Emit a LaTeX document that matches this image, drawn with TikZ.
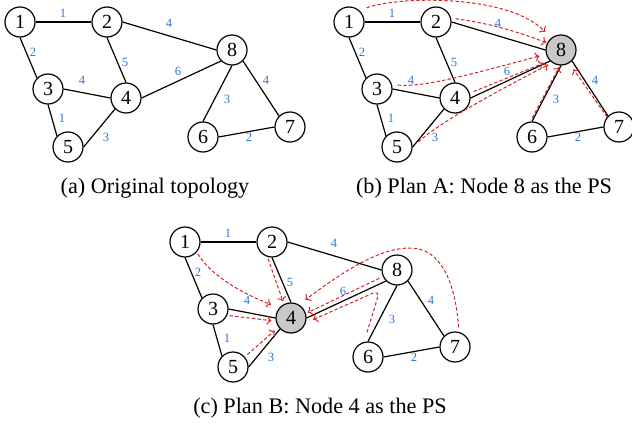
\documentclass[tikz,border=0pt]{standalone}
\usepackage{fontspec}
\setmainfont{Liberation Serif}
\usetikzlibrary{arrows.meta}
\definecolor{flowred}{RGB}{215,35,35}
\definecolor{wblue}{RGB}{45,120,210}
\definecolor{psgray}{RGB}{200,200,200}
\tikzset{
 vtx/.style={circle, draw, line width=0.6pt, minimum size=15pt, inner sep=0pt, font=\fontsize{10}{10}\selectfont},
 link/.style={line width=0.6pt},
 wlab/.style={text=wblue, font=\fontsize{6.3}{7}\selectfont, inner sep=0pt},
 flow/.style={draw=flowred, line width=0.5pt, dash pattern=on 1.7pt off 1.1pt, -{To[length=2.2pt]}},
 captxt/.style={font=\fontsize{11.1}{12}\selectfont, inner sep=0pt, anchor=base},
 v1/.style={}, v2/.style={}, v3/.style={}, v4/.style={},
 v5/.style={}, v6/.style={}, v7/.style={}, v8/.style={}
}
\newcommand\netgraph[1]{%
  \node[vtx,v1] (#11) at (20,-22) {1};
  \node[vtx,v2] (#12) at (107,-22) {2};
  \node[vtx,v3] (#13) at (48,-89) {3};
  \node[vtx,v4] (#14) at (126,-98) {4};
  \node[vtx,v5] (#15) at (68,-147) {5};
  \node[vtx,v6] (#16) at (203,-137) {6};
  \node[vtx,v7] (#17) at (290,-127) {7};
  \node[vtx,v8] (#18) at (232,-50) {8};
  \draw[link] (#11.east) -- (#12.west);
  \draw[link] (#11.south) -- (#13.north west);
  \draw[link] (#12.east) -- (#18.west);
  \draw[link] (#12.south) -- (#14.north);
  \draw[link] (#13.east) -- (#14.west);
  \draw[link] (#13.south) -- (#15.north west);
  \draw[link] (#14.south west) -- (#15.east);
  \draw[link] (#14.east) -- (#18.south west);
  \draw[link] (#18.south) -- (#16.north);
  \draw[link] (#18.south east) -- (#17.north west);
  \draw[link] (#16.east) -- (#17.west);
  \node[wlab] (#1w12) at (63,-13) {1};
  \node[wlab] (#1w13) at (33,-52) {2};
  \node[wlab] (#1w28) at (169,-23) {4};
  \node[wlab] (#1w24) at (125,-62) {5};
  \node[wlab] (#1w34) at (82,-80) {4};
  \node[wlab] (#1w35) at (62,-118) {1};
  \node[wlab] (#1w45) at (106,-137) {3};
  \node[wlab] (#1w48) at (178,-71) {6};
  \node[wlab] (#1w86) at (227,-99) {3};
  \node[wlab] (#1w87) at (266,-80) {4};
  \node[wlab] (#1w67) at (249,-137) {2};
}
\begin{document}
\begin{tikzpicture}[x=0.5pt,y=0.5pt]
\path[use as bounding box] (0,0) rectangle (632,-428);
% (a)
\begin{scope}
  \netgraph{a}
\end{scope}
\node[captxt] (capa) at (155,-193) {(a) Original topology};
% (b)
\begin{scope}[shift={(329,0)}, v8/.style={fill=psgray}]
  \netgraph{b}
  \draw[flow, shorten <=3.8pt, shorten >=4.2pt] (b1.48) .. controls (70,4) and (180,6) .. (b8.130);
  \draw[flow, shorten <=2.3pt, shorten >=0.5pt] (b2.15) to[bend left=6] (b8.153);
  \draw[flow, shorten <=2.9pt, shorten >=3.4pt] (b3.17) .. controls (95,-88) and (150,-72) .. (b8.196);
  \draw[flow, shorten <=2pt, shorten >=3.5pt] (b4.18) -- (b8.223);
  \draw[flow, shorten <=4pt, shorten >=2.2pt] (b5.-2) .. controls (110,-122) and (180,-85) .. (b8.235);
  \draw[flow, shorten <=2pt, shorten >=1pt] (b6.96) -- (b8.266);
  \draw[flow, shorten >=3.7pt] (b7.140) -- (b8.-58);
\end{scope}
\node[captxt] (capb) at (484,-193) {(b) Plan A: Node 8 as the PS};
% (c)
\begin{scope}[shift={(165,-220)}, v4/.style={fill=psgray}]
  \netgraph{c}
  \draw[flow, shorten <=1pt, shorten >=4.5pt] (c1.-40) .. controls (45,-55) and (78,-74) .. (c4.138);
  \draw[flow, shorten <=1pt, shorten >=1.5pt] (c2.253) -- (c4.117);
  \draw[flow, shorten <=1.2pt, shorten >=2.2pt] (c3.-24) -- (c4.192);
  \draw[flow, shorten <=1.7pt, shorten >=2.5pt] (c5.41) -- (c4.217);
  \draw[flow, shorten <=1.9pt, shorten >=1pt] (c8.205) -- (c4.17);
  \draw[flow, rounded corners=4pt, shorten <=5pt, shorten >=4pt] (c6.105) -- (215,-70) -- (c4.-18);
  \draw[flow, shorten <=2.3pt, shorten >=4pt] (c7.75) .. controls (290,-60) and (275,-28) .. (245,-28) .. controls (215,-28) and (180,-50) .. (c4.59);
\end{scope}
\node[captxt] (capc) at (320,-413) {(c) Plan B: Node 4 as the PS};
\end{tikzpicture}
\end{document}
